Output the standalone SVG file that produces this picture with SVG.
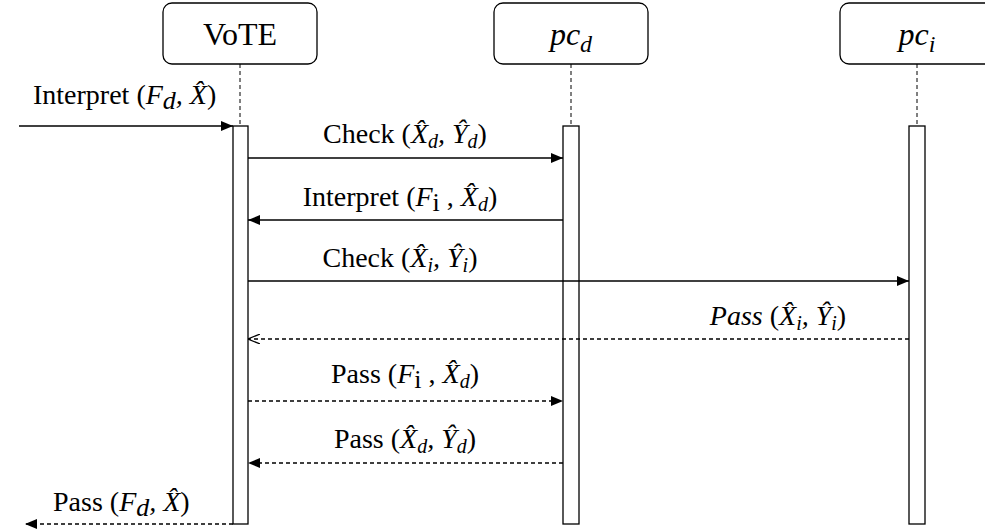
<svg xmlns="http://www.w3.org/2000/svg" width="985" height="532" viewBox="0 0 985 532">
<style>
.box{fill:#fff;stroke:#000;stroke-width:1.3}
.bar{fill:#fff;stroke:#000;stroke-width:1.3}
.life{stroke:#000;stroke-width:1;stroke-dasharray:4 3;fill:none}
.msg{stroke:#000;stroke-width:1.3;fill:none}
.ret{stroke:#000;stroke-width:1.3;fill:none;stroke-dasharray:4 3}
text{font-family:"Liberation Serif","Times New Roman",serif;fill:#000;font-size:28px}
.t{font-size:32px}
.i{font-style:italic}
.s{font-size:20px}
.u{font-size:26px}
</style>
<defs>
<marker id="fa" viewBox="0 0 12 10" refX="12" refY="5" markerWidth="12" markerHeight="10" markerUnits="userSpaceOnUse" orient="auto"><path d="M0,0 L12,5 L0,10 Z" fill="#000"/></marker>
<marker id="oa" viewBox="0 0 12 10" refX="12" refY="5" markerWidth="12" markerHeight="10" markerUnits="userSpaceOnUse" orient="auto"><path d="M0,0 L12,5 L0,10" fill="none" stroke="#000" stroke-width="1.2"/></marker>
</defs>
<g id="lifelines">
<line class="life" x1="240" y1="64" x2="240" y2="126"/>
<line class="life" x1="571" y1="64" x2="571" y2="126"/>
<line class="life" x1="917" y1="64" x2="917" y2="126"/>
</g>
<g id="VoTE">
<rect class="box" x="163" y="3" width="154" height="61" rx="9"/>
<text class="t" x="240" y="45" text-anchor="middle">VoTE</text>
<rect class="bar" x="233" y="126" width="15" height="398"/>
</g>
<g id="pcd">
<rect class="box" x="494" y="3" width="154" height="61" rx="9"/>
<text class="t i" x="571" y="45" text-anchor="middle">pc<tspan font-size="24" dy="7">d</tspan></text>
<rect class="bar" x="563" y="126" width="16" height="398"/>
</g>
<g id="pci">
<rect class="box" x="840" y="3" width="154" height="61" rx="9"/>
<text class="t i" x="917" y="45" text-anchor="middle">pc<tspan font-size="24" dy="7">i</tspan></text>
<rect class="bar" x="909" y="126" width="16" height="398"/>
</g>
<g id="connectors">
<line class="msg" x1="19" y1="126" x2="233" y2="126" marker-end="url(#fa)"/>
<text x="33" y="104">Interpret (<tspan class="i">F</tspan><tspan class="i u" dy="5">d</tspan><tspan class="i" dy="-5">,  X̂</tspan>)</text>
<line class="msg" x1="248" y1="158" x2="563" y2="158" marker-end="url(#fa)"/>
<text x="405" y="143" text-anchor="middle">Check (<tspan class="i">X̂</tspan><tspan class="i s" dy="5">d</tspan><tspan class="i" dy="-5">, Ŷ</tspan><tspan class="i s" dy="5">d</tspan><tspan dy="-5">)</tspan></text>
<line class="msg" x1="563" y1="220" x2="248" y2="220" marker-end="url(#fa)"/>
<text x="400" y="206" text-anchor="middle">Interpret (<tspan class="i">F</tspan><tspan class="u" dy="5">i</tspan><tspan dy="-5"> , </tspan><tspan class="i">X̂</tspan><tspan class="i s" dy="5">d</tspan><tspan dy="-5">)</tspan></text>
<line class="msg" x1="248" y1="281" x2="909" y2="281" marker-end="url(#fa)"/>
<text x="400" y="267" text-anchor="middle">Check (<tspan class="i">X̂</tspan><tspan class="i s" dy="5">i</tspan><tspan class="i" dy="-5">, Ŷ</tspan><tspan class="i s" dy="5">i</tspan><tspan dy="-5">)</tspan></text>
<line class="ret" x1="909" y1="339" x2="248" y2="339" marker-end="url(#oa)"/>
<text x="778" y="325" text-anchor="middle"><tspan class="i">Pass</tspan> (<tspan class="i">X̂</tspan><tspan class="i s" dy="5">i</tspan><tspan class="i" dy="-5">, Ŷ</tspan><tspan class="i s" dy="5">i</tspan><tspan dy="-5">)</tspan></text>
<line class="ret" x1="248" y1="401" x2="563" y2="401" marker-end="url(#fa)"/>
<text x="405" y="383" text-anchor="middle">Pass (<tspan class="i">F</tspan><tspan class="u" dy="5">i</tspan><tspan dy="-5"> , </tspan><tspan class="i">X̂</tspan><tspan class="i s" dy="5">d</tspan><tspan dy="-5">)</tspan></text>
<line class="ret" x1="563" y1="463" x2="248" y2="463" marker-end="url(#fa)"/>
<text x="405" y="448" text-anchor="middle">Pass (<tspan class="i">X̂</tspan><tspan class="i s" dy="5">d</tspan><tspan class="i" dy="-5">, Ŷ</tspan><tspan class="i s" dy="5">d</tspan><tspan dy="-5">)</tspan></text>
<line class="ret" x1="233" y1="524" x2="25" y2="524" marker-end="url(#fa)"/>
<text x="53" y="511">Pass (<tspan class="i">F</tspan><tspan class="i u" dy="5">d</tspan><tspan class="i" dy="-5">,  X̂</tspan>)</text>
</g>
</svg>
